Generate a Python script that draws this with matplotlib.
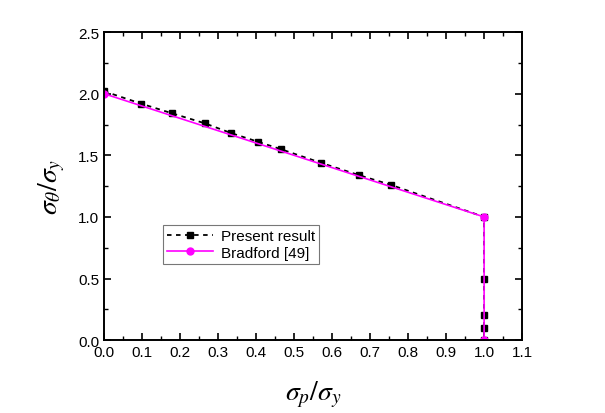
import matplotlib
matplotlib.use("Agg")
import matplotlib.pyplot as plt
from matplotlib.ticker import MultipleLocator

plt.rcParams["font.family"] = ["Liberation Sans", "DejaVu Sans"]
plt.rcParams["mathtext.fontset"] = "stix"

# Present result
present_x = [0.0, 0.097, 0.18, 0.265, 0.335, 0.405, 0.465, 0.57, 0.67, 0.755, 1.0, 1.0, 1.0, 1.0, 1.0]
present_y = [2.02, 1.92, 1.84, 1.76, 1.68, 1.61, 1.55, 1.44, 1.34, 1.26, 1.0, 0.5, 0.2, 0.1, 0.0]

# Bradford [49]
bradford_x = [0.0, 1.0, 1.0]
bradford_y = [2.0, 1.0, 0.0]

fig = plt.figure(figsize=(6.05, 4.14), dpi=100)
ax = fig.add_axes([0.172, 0.176, 0.691, 0.744])

ax.plot(present_x, present_y, color="black", linestyle=(0, (2.5, 2.5)), linewidth=1.3,
        marker="s", markersize=4.5, label="Present result")
ax.plot(bradford_x, bradford_y, color="#ff00ff", linestyle="-", linewidth=1.2,
        marker="o", markersize=5, label="Bradford [49]")

ax.set_xlim(0, 1.1)
ax.set_ylim(0, 2.5)
ax.xaxis.set_major_locator(MultipleLocator(0.1))
ax.xaxis.set_minor_locator(MultipleLocator(0.05))
ax.yaxis.set_major_locator(MultipleLocator(0.5))
ax.yaxis.set_minor_locator(MultipleLocator(0.25))
ax.tick_params(which="both", direction="in", top=True, right=True, labelsize=11)
ax.tick_params(which="major", length=5, width=1.2)
ax.tick_params(which="minor", length=3, width=1.0)
for s in ax.spines.values():
    s.set_linewidth(1.4)

ax.set_xlabel(r"$\sigma_p/\sigma_y$", fontsize=20, labelpad=14)
ax.set_ylabel(r"$\sigma_\theta/\sigma_y$", fontsize=20, labelpad=8)

leg = ax.legend(loc="upper left", bbox_to_anchor=(0.14, 0.375), fontsize=11,
                frameon=True, fancybox=False, edgecolor="#555555",
                handlelength=3, borderpad=0.3, labelspacing=0.15, handletextpad=0.5,
                borderaxespad=0)
leg.get_frame().set_linewidth(0.8)

fig.savefig("out.png", dpi=100)
